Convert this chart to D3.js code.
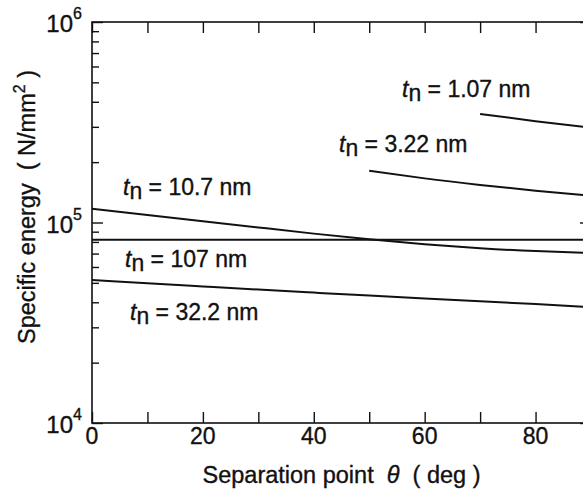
<!DOCTYPE html>
<html>
<head>
<meta charset="utf-8">
<script src="https://cdn.jsdelivr.net/npm/d3@7"></script>
<style>
  body { margin: 0; background: #fff; }
  svg text { font-family: "Liberation Sans", Arial, sans-serif; fill: #111; stroke: #111; stroke-width: 0.35px; }
</style>
</head>
<body>
<div id="chart"></div>
<script>
// chart size
var svgWidth = 583;
var svgHeight = 498;

// plot box (the right edge runs off the picture, as in the original)
var plot = { left: 92, top: 22, right: 591, bottom: 423 };

// data
var theta = [0, 10, 20, 30, 40, 50, 60, 70, 80, 90];
var e107 = [8.2e4, 8.2e4, 8.2e4, 8.2e4, 8.2e4, 8.2e4, 8.2e4, 8.2e4, 8.2e4, 8.2e4];
var e10_7 = [1.17e5, 1.09e5, 1.015e5, 9.45e4, 8.8e4, 8.25e4, 7.8e4, 7.45e4, 7.2e4, 7.05e4];
var e32_2 = [5.17e4, 4.98e4, 4.8e4, 4.63e4, 4.47e4, 4.32e4, 4.18e4, 4.05e4, 3.92e4, 3.78e4];
var theta3 = [50, 60, 70, 80, 90];
var e3_22 = [1.81e5, 1.66e5, 1.54e5, 1.44e5, 1.36e5];
var theta1 = [70, 80, 90];
var e1_07 = [3.48e5, 3.2e5, 2.97e5];

var xTicks = [0, 10, 20, 30, 40, 50, 60, 70, 80, 90];
var xTickLabels = [0, 20, 40, 60, 80];
var yMajor = [1e4, 1e5, 1e6];
var yExponents = [4, 5, 6];

var series = [
  { x: theta, y: e10_7, label: "10.7", lx: 123, ly: 195 },
  { x: theta, y: e107, label: "107", lx: 125, ly: 267 },
  { x: theta, y: e32_2, label: "32.2", lx: 130, ly: 320 },
  { x: theta3, y: e3_22, label: "3.22", lx: 339, ly: 152 },
  { x: theta1, y: e1_07, label: "1.07", lx: 402, ly: 97 }
];

var svg = d3.select("#chart")
  .append("svg")
  .attr("width", svgWidth)
  .attr("height", svgHeight);

var xScale = d3.scaleLinear().domain([0, 90]).range([plot.left, plot.right]);
var yScale = d3.scaleLog().domain([1e4, 1e6]).range([plot.bottom, plot.top]);

// minor ticks for the log axis
var yMinor = [];
[1e4, 1e5].forEach(function(d) {
  for (var k = 2; k <= 9; k++) yMinor.push(d * k);
});

function styleAxis(g) {
  g.select(".domain").remove();
  g.selectAll("line").attr("stroke", "#111").attr("stroke-width", 1.4);
}

// x axes (bottom and top), ticks inward
svg.append("g")
  .attr("transform", `translate(0, ${plot.bottom})`)
  .call(d3.axisBottom(xScale).tickValues(xTicks).tickSize(-11).tickFormat(""))
  .call(styleAxis);
svg.append("g")
  .attr("transform", `translate(0, ${plot.top})`)
  .call(d3.axisTop(xScale).tickValues(xTicks).tickSize(-11).tickFormat(""))
  .call(styleAxis);

// y axes (left and right)
[[d3.axisLeft, plot.left], [d3.axisRight, plot.right]].forEach(function(a) {
  svg.append("g")
    .attr("transform", `translate(${a[1]}, 0)`)
    .call(a[0](yScale).tickValues(yMinor).tickSize(-7).tickFormat(""))
    .call(styleAxis);
  svg.append("g")
    .attr("transform", `translate(${a[1]}, 0)`)
    .call(a[0](yScale).tickValues(yMajor).tickSize(-11).tickFormat(""))
    .call(styleAxis);
});

// frame
svg.append("rect")
  .attr("x", plot.left).attr("y", plot.top)
  .attr("width", plot.right - plot.left).attr("height", plot.bottom - plot.top)
  .attr("fill", "none").attr("stroke", "#111").attr("stroke-width", 1.6);

// x tick labels
svg.selectAll(".xlab")
  .data(xTickLabels)
  .enter().append("text")
  .attr("x", d => xScale(d))
  .attr("y", plot.bottom + 21)
  .attr("text-anchor", "middle")
  .style("font-size", "23px")
  .text(d => d);

// y tick labels 10^n
svg.selectAll(".ylab")
  .data(yMajor)
  .enter().append("text")
  .attr("x", 73)
  .attr("y", d => yScale(d) + 10)
  .attr("text-anchor", "end")
  .style("font-size", "24px")
  .text("10");
svg.selectAll(".yexp")
  .data(yMajor)
  .enter().append("text")
  .attr("x", 73)
  .attr("y", (d, i) => yScale(d) - 3)
  .style("font-size", "16px")
  .text((d, i) => yExponents[i]);

// curves
var line = d3.line()
  .x(d => xScale(d[0]))
  .y(d => yScale(d[1]))
  .curve(d3.curveNatural);

series.forEach(function(s) {
  svg.append("path")
    .datum(s.x.map((v, i) => [v, s.y[i]]))
    .attr("d", line)
    .attr("fill", "none")
    .attr("stroke", "#111")
    .attr("stroke-width", 2);

  var t = svg.append("text")
    .attr("x", s.lx)
    .attr("y", s.ly)
    .style("font-size", "23px");
  t.append("tspan").style("font-style", "italic").text("t");
  t.append("tspan").attr("dy", 4).text("n");
  t.append("tspan").attr("dy", -4).text(" = " + s.label + " nm");
});

// axis titles
var xt = svg.append("text")
  .attr("x", xScale(45))
  .attr("y", 483)
  .attr("text-anchor", "middle")
  .style("font-size", "23.5px")
  .style("white-space", "pre");
xt.append("tspan").text("Separation point  ");
xt.append("tspan").style("font-style", "italic").text("θ");
xt.append("tspan").text("  ( deg )");

var yt = svg.append("text")
  .attr("transform", "translate(35, 207) rotate(-90)")
  .attr("text-anchor", "middle")
  .style("font-size", "23.5px")
  .style("white-space", "pre");
yt.append("tspan").text("Specific energy  ( N/mm");
yt.append("tspan").attr("dy", -10).style("font-size", "16px").text("2");
yt.append("tspan").attr("dy", 10).text(" )");
</script>
</body>
</html>
